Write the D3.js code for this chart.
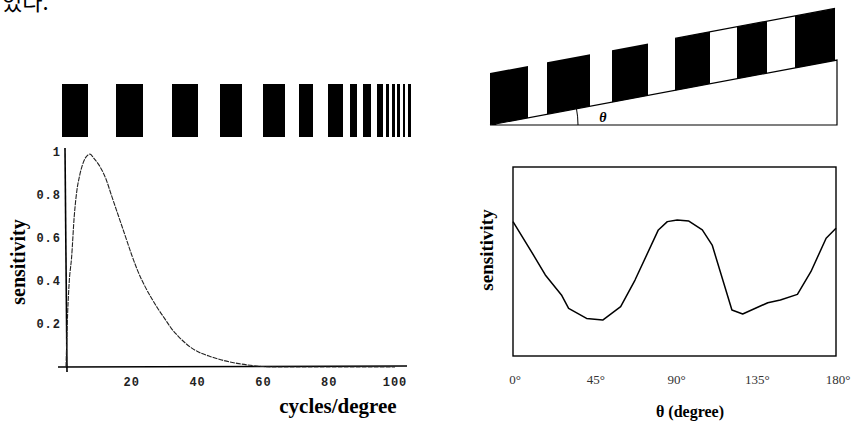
<!DOCTYPE html>
<html><head><meta charset="utf-8">
<script src="https://cdn.jsdelivr.net/npm/d3@7"></script>
<style>body{margin:0;background:#fff}svg{display:block}</style>
</head><body>
<svg id="c" width="851" height="424"></svg>
<script>
// ---- data ----
const cycles     = [0, 0.5, 1, 1.7, 2.5, 3.3, 4, 4.8, 6, 7.3, 8.5, 10, 12, 14, 16, 18, 20, 22, 24, 26, 28, 30, 32, 34, 36, 38, 40, 44, 48, 52, 56, 60, 65, 100];
const sensCycles = [0, 0.25, 0.40, 0.51, 0.70, 0.82, 0.88, 0.93, 0.975, 0.99, 0.97, 0.94, 0.88, 0.79, 0.70, 0.61, 0.52, 0.44, 0.375, 0.32, 0.27, 0.225, 0.18, 0.145, 0.115, 0.09, 0.072, 0.048, 0.03, 0.017, 0.008, 0.002, 0, 0];
const cycleTicks = [20, 40, 60, 80, 100];
const sensTicks = [0.2, 0.4, 0.6, 0.8, 1];
const sensTickLabels = ["0.2", "0.4", "0.6", "0.8", "1"];

const theta     = [0, 12, 18, 27, 31, 41, 50, 60, 68, 81, 86, 91.5, 98, 105.5, 111, 122, 128, 142, 149, 158.5, 166, 174.5, 180];
const sensTheta = [0.711, 0.525, 0.429, 0.323, 0.252, 0.199, 0.190, 0.261, 0.402, 0.667, 0.711, 0.720, 0.714, 0.667, 0.587, 0.243, 0.222, 0.282, 0.296, 0.326, 0.446, 0.623, 0.676];
const thetaTicks = [0, 45, 90, 135, 180];
const thetaTickLabels = ["0°", "45°", "90°", "135°", "180°"];

// chirped grating (units along the strip, 0..350)
const gratingBars = [[0,26],[54,81],[110,136],[158,180],[201,223],[237,251],[266,281],[288,295],[301,309],[315,321],[324,327],[330,333],[335,338],[341,343],[346,349]];
// oblique grating bars (units along the ramp from apex, 0..350)
const slantBars = [[0,38],[57,100],[122,158],[185,220],[247,277],[305,345]];
const rampAngle = 10.6; // degrees

const svg = d3.select("#c");
const serif = "'Liberation Serif', 'Times New Roman', serif";

// Korean text fragment at top-left (cropped page)
svg.append("text").attr("x", 2).attr("y", 10)
  .attr("font-family", "'Noto Sans CJK KR', sans-serif").attr("font-size", 22)
  .text("었다.");

// ---------- LEFT PANEL ----------
const xL = d3.scaleLinear().domain([0, 100]).range([66, 395]);
const yL = d3.scaleLinear().domain([0, 1]).range([367, 152]);

// grating
const gX = d3.scaleLinear().domain([0, 350]).range([62, 412]);
svg.append("g").selectAll("rect").data(gratingBars).join("rect")
  .attr("x", d => gX(d[0])).attr("width", d => gX(d[1]) - gX(d[0]))
  .attr("y", 84).attr("height", 53).attr("fill", "#000");

// axes lines
svg.append("line").attr("x1", xL(0) - 8).attr("x2", xL(100) + 12)
  .attr("y1", yL(0)).attr("y2", yL(0) - 1).attr("stroke", "#000").attr("stroke-width", 1.6);
svg.append("line").attr("x1", xL(0) - 1).attr("x2", xL(0) + 1)
  .attr("y1", yL(1) - 4).attr("y2", yL(0) + 5).attr("stroke", "#000").attr("stroke-width", 1.6);

// tick labels
const tickFont = "'Liberation Mono', 'DejaVu Sans Mono', monospace";
svg.append("g").selectAll("text").data(sensTicks).join("text")
  .attr("x", 61).attr("y", d => yL(d)).attr("dy", "0.35em")
  .attr("text-anchor", "end").attr("font-family", tickFont).attr("font-weight", "bold")
  .attr("font-size", 12).attr("letter-spacing", 1).attr("fill", "#222")
  .text((d, i) => sensTickLabels[i]);
svg.append("g").selectAll("text").data(cycleTicks).join("text")
  .attr("x", d => xL(d)).attr("y", 386)
  .attr("text-anchor", "middle").attr("font-family", tickFont).attr("font-weight", "bold")
  .attr("font-size", 12).attr("letter-spacing", 1).attr("fill", "#222")
  .text(d => d);

// curve
const lineL = d3.line().x((d, i) => xL(cycles[i])).y(d => yL(d)).curve(d3.curveMonotoneX);
svg.append("path").attr("d", lineL(sensCycles)).attr("fill", "none")
  .attr("stroke", "#222").attr("stroke-width", 1.1).attr("stroke-dasharray", "5,1");

// titles
svg.append("text").attr("transform", "translate(25,262) rotate(-90)")
  .attr("text-anchor", "middle").attr("font-family", serif).attr("font-weight", "bold")
  .attr("font-size", 20).text("sensitivity");
svg.append("text").attr("x", 338).attr("y", 413)
  .attr("text-anchor", "middle").attr("font-family", serif).attr("font-weight", "bold")
  .attr("font-size", 21).text("cycles/degree");

// ---------- RIGHT ILLUSTRATION ----------
const apex = [490, 125];
const rX = d3.scaleLinear().domain([0, 350]).range([apex[0], apex[0] + 350]);
const tanA = Math.tan(rampAngle * Math.PI / 180);
const hyp = u => apex[1] - (rX(u) - apex[0]) * tanA;
const band = 52;
const rightEnd = 347;

svg.append("g").selectAll("path").data(slantBars).join("path")
  .attr("d", d => `M${rX(d[0])},${hyp(d[0])}L${rX(d[1])},${hyp(d[1])}L${rX(d[1])},${hyp(d[1]) - band}L${rX(d[0])},${hyp(d[0]) - band}Z`)
  .attr("fill", "#000");
// band top edge in the upper part
svg.append("line").attr("x1", rX(slantBars[3][0])).attr("y1", hyp(slantBars[3][0]) - band)
  .attr("x2", rX(slantBars[5][1])).attr("y2", hyp(slantBars[5][1]) - band)
  .attr("stroke", "#000").attr("stroke-width", 1.2);
// triangle
svg.append("path")
  .attr("d", `M${apex[0]},${apex[1]}L${rX(rightEnd)},${apex[1]}L${rX(rightEnd)},${hyp(rightEnd)}Z`)
  .attr("fill", "none").attr("stroke", "#000").attr("stroke-width", 1.2);
// angle arc
const arcR = 88, aRad = rampAngle * Math.PI / 180;
const p = d3.path();
p.moveTo(apex[0] + arcR * Math.cos(-aRad), apex[1] + arcR * Math.sin(-aRad));
p.arc(apex[0], apex[1], arcR, -aRad, 0);
svg.append("path").attr("d", p.toString()).attr("fill", "none").attr("stroke", "#000").attr("stroke-width", 1);
svg.append("text").attr("x", 603).attr("y", 122).attr("text-anchor", "middle")
  .attr("font-family", serif).attr("font-weight", "bold").attr("font-style", "italic")
  .attr("font-size", 14).text("θ");

// ---------- RIGHT PANEL ----------
const xR = d3.scaleLinear().domain([0, 180]).range([513, 836]);
const yR = d3.scaleLinear().domain([0, 1]).range([356, 167]);
svg.append("rect").attr("x", xR(0)).attr("y", yR(1))
  .attr("width", xR(180) - xR(0)).attr("height", yR(0) - yR(1))
  .attr("fill", "none").attr("stroke", "#000").attr("stroke-width", 1.4);
const lineR = d3.line().x((d, i) => xR(theta[i])).y(d => yR(d));
svg.append("path").attr("d", lineR(sensTheta)).attr("fill", "none")
  .attr("stroke", "#000").attr("stroke-width", 1.5).attr("stroke-linejoin", "round");

svg.append("g").selectAll("text").data(thetaTicks).join("text")
  .attr("x", d => xR(d) + 2).attr("y", 384).attr("text-anchor", "middle")
  .attr("font-family", serif).attr("font-size", 13).attr("fill", "#333")
  .text((d, i) => thetaTickLabels[i]);

svg.append("text").attr("transform", "translate(493,250) rotate(-90)")
  .attr("text-anchor", "middle").attr("font-family", serif).attr("font-weight", "bold")
  .attr("font-size", 19).text("sensitivity");
svg.append("text").attr("x", 690).attr("y", 417).attr("text-anchor", "middle")
  .attr("font-family", serif).attr("font-weight", "bold").attr("font-size", 16)
  .text("θ (degree)");
</script>
</body></html>
